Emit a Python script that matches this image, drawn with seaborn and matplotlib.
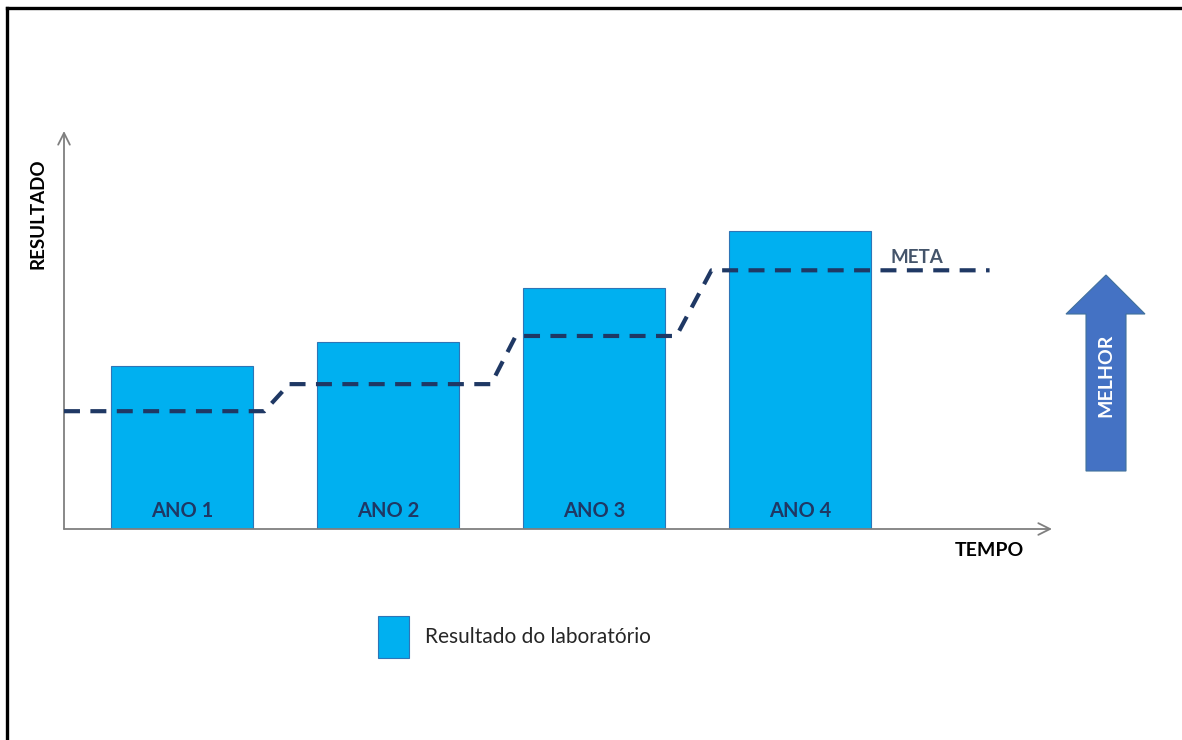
import matplotlib
matplotlib.use("Agg")
import matplotlib.pyplot as plt
import seaborn as sns
import pandas as pd
from matplotlib.patches import Patch, Polygon
from matplotlib.lines import Line2D

# ---- data ----
categories = ["ANO 1", "ANO 2", "ANO 3", "ANO 4"]
resultado = [41, 47, 60.5, 75]
meta = [29.6, 36.4, 48.5, 65]

sns.set_theme(style="white")
plt.rcParams["font.family"] = ["Lato", "DejaVu Sans"]
plt.rcParams["lines.scale_dashes"] = False

W, H = 1182, 740
fig = plt.figure(figsize=(W / 100, H / 100), dpi=100)
fig.patch.set_facecolor("white")

def fx(px):
    return px / W

def fy(py):
    return 1 - py / H

# axes area: x 64..1052 px, y 529..131 px
ax = fig.add_axes([fx(64), fy(529), fx(1052) - fx(64), fy(131) - fy(529)])
ax.set_facecolor("none")

df = pd.DataFrame({"ano": categories, "resultado": resultado})
sns.barplot(data=df, x="ano", y="resultado", color="#00B0F0", saturation=1,
            width=0.69, edgecolor="#2E75B6", linewidth=0.8, ax=ax, zorder=2)

ax.set_xlim(-0.573, 4.223)
ax.set_ylim(0, 100)
for s in ax.spines.values():
    s.set_visible(False)
ax.set_xticks([])
ax.set_yticks([])
ax.set_xlabel("")
ax.set_ylabel("")

# axis arrows
arrow_kw = dict(arrowstyle="->,head_length=0.7,head_width=0.35", color="#7F7F7F", lw=1.3,
                shrinkA=0, shrinkB=0)
ax.annotate("", xy=(0, 1), xytext=(0, 0), xycoords="axes fraction",
            arrowprops=arrow_kw, annotation_clip=False)
ax.annotate("", xy=(1, 0), xytext=(0, 0), xycoords="axes fraction",
            arrowprops=arrow_kw, annotation_clip=False)

# bar labels
for i, c in enumerate(categories):
    ax.text(i, 4.6, c, ha="center", va="center", fontsize=14.5, fontweight="bold",
            color="#1F3864", zorder=3)

# meta step line
trans_start = [0.40, 1.50, 2.40]
trans_end = [0.52, 1.62, 2.57]
xs = [-0.573]
ys = [meta[0]]
for k in range(len(meta) - 1):
    xs += [trans_start[k], trans_end[k]]
    ys += [meta[k], meta[k + 1]]
xs.append(3.92)
ys.append(meta[-1])
ax.plot(xs, ys, color="#1F3864", lw=3.0, linestyle=(0, (11.5, 7.5)),
        zorder=4, solid_capstyle="butt", dash_capstyle="butt")
ax.text(3.568, 68.2, "META", ha="center", va="center", fontsize=13.5,
        fontweight="bold", color="#44546A")

# axis titles
ax.text(3.92, -5.3, "TEMPO", ha="center", va="center", fontsize=14,
        fontweight="bold", color="black", clip_on=False)
fig.text(fx(38), fy(214), "RESULTADO", rotation=90, ha="center", va="center",
         fontsize=13.5, fontweight="bold", color="black")

# MELHOR arrow
arrow_pts = [(1086, 471), (1126, 471), (1126, 314), (1145, 314), (1106, 275),
             (1066, 314), (1086, 314)]
poly = Polygon([(fx(x), fy(y)) for x, y in arrow_pts], closed=True,
               transform=fig.transFigure, facecolor="#4472C4", edgecolor="#41719C",
               lw=0.8)
fig.patches.append(poly)
fig.text(fx(1106), fy(375), "MELHOR", rotation=90, ha="center", va="center",
         fontsize=14, fontweight="bold", color="white")

# legend
handle = Patch(facecolor="#00B0F0", edgecolor="#2E75B6", lw=0.8,
               label="Resultado do laboratório")
fig.legend(handles=[handle], loc="center left", bbox_to_anchor=(fx(378), fy(637)),
           frameon=False, fontsize=15, handlelength=1.5, handleheight=2.72,
           handletextpad=0.75, borderpad=0, borderaxespad=0, labelcolor="#262626")

# outer frame (left and top edges)
fig.add_artist(Line2D([fx(7), fx(7)], [0, fy(8)], transform=fig.transFigure,
                      color="black", lw=2.4, solid_capstyle="projecting"))
fig.add_artist(Line2D([fx(7), 1], [fy(8), fy(8)], transform=fig.transFigure,
                      color="black", lw=2.4, solid_capstyle="projecting"))

fig.savefig("out.png", dpi=100, facecolor="white")
